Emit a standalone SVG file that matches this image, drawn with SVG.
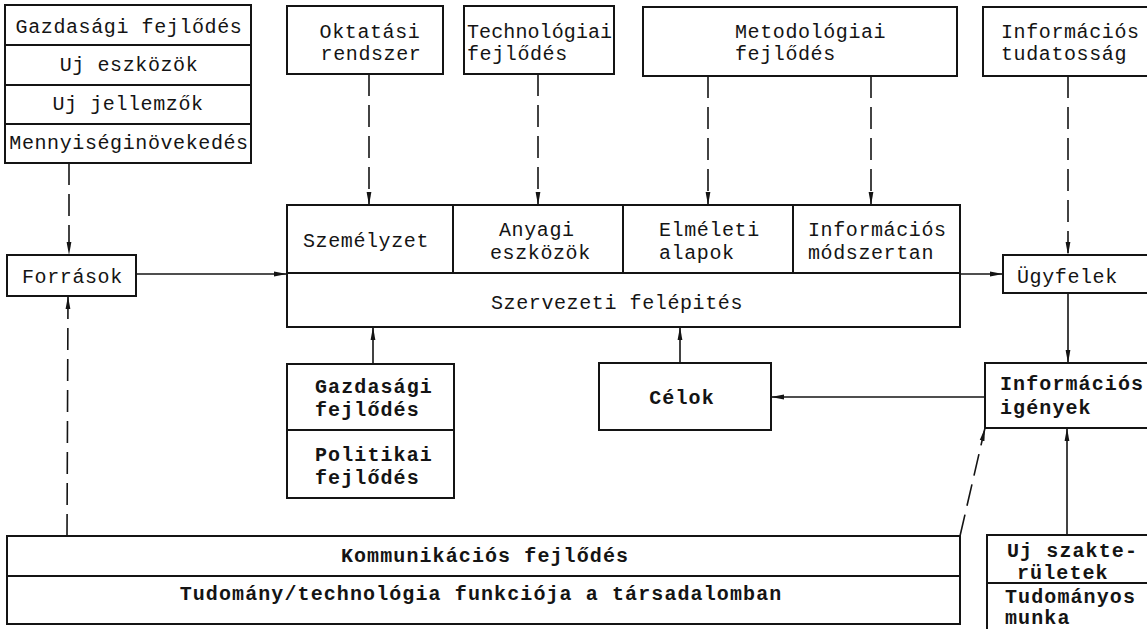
<svg xmlns="http://www.w3.org/2000/svg" width="1147" height="629" viewBox="0 0 1147 629">
  <style>
    .box { fill: #fff; stroke: #141414; stroke-width: 2; }
    .div { stroke: #141414; stroke-width: 2; fill: none; }
    .t { font-family: "Liberation Mono", "DejaVu Sans Mono", monospace; font-size: 20px; letter-spacing: 0.6px; fill: #141414; }
    .b { font-weight: bold; letter-spacing: 1.1px; }
    .c { text-anchor: middle; }
    .ln { stroke: #141414; stroke-width: 1.6; fill: none; marker-end: url(#ah); }
    .dash { stroke-dasharray: 22 9; }
  </style>
  <defs>
    <marker id="ah" markerUnits="userSpaceOnUse" markerWidth="14" markerHeight="8" refX="13" refY="3" orient="auto">
      <path d="M0,0.6 L13,3 L0,5.4 z" fill="#141414"/>
    </marker>
  </defs>

  <rect width="1147" height="629" fill="#fff"/>

  <!-- connectors -->
  <g id="connectors">
    <line class="ln dash" x1="69" y1="163" x2="69" y2="255"/>
    <line class="ln" x1="136" y1="274" x2="287" y2="274"/>
    <line class="ln dash" x1="67" y1="536" x2="68" y2="296"/>
    <line class="ln dash" x1="369" y1="74" x2="369" y2="205"/>
    <line class="ln dash" x1="538" y1="74" x2="538" y2="205"/>
    <line class="ln dash" x1="708" y1="76" x2="708" y2="205"/>
    <line class="ln dash" x1="871" y1="76" x2="871" y2="205"/>
    <line class="ln dash" x1="1068" y1="76" x2="1068" y2="255"/>
    <line class="ln" x1="960" y1="274" x2="1003" y2="274"/>
    <line class="ln" x1="1068" y1="293" x2="1068" y2="363"/>
    <line class="ln" x1="373" y1="364" x2="373" y2="327"/>
    <line class="ln" x1="680" y1="363" x2="680" y2="327"/>
    <line class="ln" x1="985" y1="397" x2="771" y2="397"/>
    <line class="ln dash" x1="960" y1="536" x2="985" y2="428"/>
    <line class="ln" x1="1067" y1="535" x2="1067" y2="428"/>
  </g>

  <!-- economic development stack, top left -->
  <g id="node-gazdasagi-stack">
    <rect class="box" x="5" y="5" width="246" height="158"/>
    <line class="div" x1="5" y1="45" x2="251" y2="45"/>
    <line class="div" x1="5" y1="85" x2="251" y2="85"/>
    <line class="div" x1="5" y1="124" x2="251" y2="124"/>
    <text class="t c" x="129" y="33">Gazdasági fejlődés</text>
    <text class="t c" x="129" y="71">Uj eszközök</text>
    <text class="t c" x="128" y="110">Uj jellemzők</text>
    <text class="t c" x="129" y="149">Mennyiséginövekedés</text>
  </g>

  <g id="node-oktatasi">
    <rect class="box" x="287" y="6" width="156" height="68"/>
    <text class="t c" x="370" y="38">Oktatási</text>
    <text class="t c" x="371" y="60">rendszer</text>
  </g>

  <g id="node-technologiai">
    <rect class="box" x="464" y="6" width="150" height="68"/>
    <text class="t" x="467" y="38" style="letter-spacing:0.1px">Technológiai</text>
    <text class="t" x="467" y="60">fejlődés</text>
  </g>

  <g id="node-metodologiai">
    <rect class="box" x="643" y="7" width="314" height="69"/>
    <text class="t" x="735" y="38">Metodológiai</text>
    <text class="t" x="735" y="60">fejlődés</text>
  </g>

  <g id="node-informacios-tudatossag">
    <rect class="box" x="983" y="7" width="170" height="69"/>
    <text class="t" x="1001" y="38">Információs</text>
    <text class="t" x="1001" y="60">tudatosság</text>
  </g>

  <g id="node-forrasok">
    <rect class="box" x="7" y="255" width="129" height="41"/>
    <text class="t" x="22" y="283">Források</text>
  </g>

  <!-- organisation block -->
  <g id="node-szervezet">
    <rect class="box" x="287" y="205" width="673" height="122"/>
    <line class="div" x1="287" y1="273" x2="960" y2="273"/>
    <line class="div" x1="453" y1="205" x2="453" y2="273"/>
    <line class="div" x1="623" y1="205" x2="623" y2="273"/>
    <line class="div" x1="793" y1="205" x2="793" y2="273"/>
    <text class="t" x="303" y="247">Személyzet</text>
    <text class="t" x="499" y="236">Anyagi</text>
    <text class="t" x="490" y="259">eszközök</text>
    <text class="t" x="659" y="236">Elméleti</text>
    <text class="t" x="659" y="259">alapok</text>
    <text class="t" x="808" y="236">Információs</text>
    <text class="t" x="808" y="259">módszertan</text>
    <text class="t c" x="617" y="309">Szervezeti felépités</text>
  </g>

  <g id="node-ugyfelek">
    <rect class="box" x="1003" y="255" width="150" height="38"/>
    <text class="t" x="1017" y="283">Ügyfelek</text>
  </g>

  <g id="node-gazdasagi-politikai">
    <rect class="box" x="287" y="364" width="167" height="134"/>
    <line class="div" x1="287" y1="430" x2="454" y2="430"/>
    <text class="t b" x="315" y="393">Gazdasági</text>
    <text class="t b" x="315" y="416">fejlődés</text>
    <text class="t b" x="315" y="461">Politikai</text>
    <text class="t b" x="315" y="484">fejlődés</text>
  </g>

  <g id="node-celok">
    <rect class="box" x="599" y="363" width="172" height="67"/>
    <text class="t b c" x="682" y="404">Célok</text>
  </g>

  <g id="node-informacios-igenyek">
    <rect class="box" x="985" y="363" width="168" height="65"/>
    <text class="t b" x="1000" y="390">Információs</text>
    <text class="t b" x="1000" y="414">igények</text>
  </g>

  <g id="node-kommunikacios">
    <rect class="box" x="7" y="536" width="953" height="88"/>
    <line class="div" x1="7" y1="576" x2="960" y2="576"/>
    <text class="t b c" x="485" y="562">Kommunikációs fejlődés</text>
    <text class="t b c" x="481" y="600">Tudomány/technológia funkciója a társadalomban</text>
  </g>

  <g id="node-uj-szakteruletek">
    <rect class="box" x="987" y="535" width="166" height="100"/>
    <line class="div" x1="987" y1="583" x2="1153" y2="583"/>
    <text class="t b" x="1007" y="557">Uj szakte-</text>
    <text class="t b" x="1017" y="579">rületek</text>
    <text class="t b" x="1005" y="603">Tudományos</text>
    <text class="t b" x="1005" y="624">munka</text>
  </g>
</svg>
